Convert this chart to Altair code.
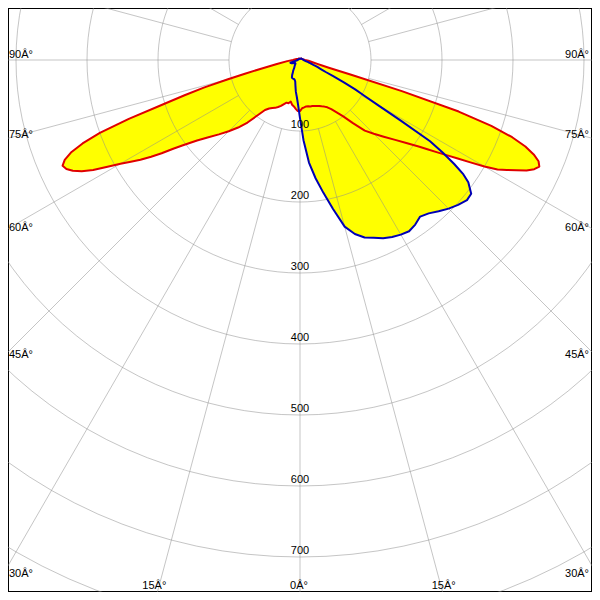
import math
import altair as alt
import pandas as pd

# ---------------- data ----------------
gamma = [0, 2.5, 5, 7.5, 10, 12.5, 15, 17.5, 20, 22.5, 25, 27.5, 30, 32.5, 35,
         37.5, 40, 42.5, 45, 47.5, 50, 52, 54,
         55, 56, 57, 58, 59, 60, 61, 62, 63, 64, 65, 66, 67, 68, 69, 70, 71, 72,
         73, 74, 75, 76, 77.5, 80, 85, 90, 105, 120, 135, 150, 165, 180]

# red curve (C0 - C180 plane), cd
red_c0 = [72, 68, 67, 66, 66, 67, 67, 68, 69, 70, 72, 74, 77, 82, 90,
          100, 116, 135, 147, 160, 175, 190, 208,
          219, 232, 246, 262, 280, 300, 318, 330, 342, 355, 364, 369, 365, 355, 340, 318, 285, 235,
          150, 75, 42, 32, 25, 18, 12, 7, 4, 3, 3, 2, 2, 2]
red_c180 = [72, 72, 69, 66, 64, 60, 63, 63, 66, 70, 73, 76, 78, 81, 86,
            98, 115, 129, 142, 155, 170, 184, 205,
            218, 235, 250, 265, 278, 292, 310, 330, 345, 356, 363, 366, 360, 348, 328, 300, 255, 205,
            170, 140, 105, 80, 55, 33, 18, 10, 5, 3, 3, 2, 2, 2]

# blue curve (C90 - C270 plane), cd
blue_c90 = [82, 113, 145, 168, 190, 215, 243, 257, 266, 271, 277, 281, 284, 286, 283,
            278, 282, 289, 296, 302, 307, 306, 293,
            281, 262, 240, 216, 165, 125, 103, 88, 70, 52, 40, 34, 30, 27, 24, 20, 18, 16,
            15, 13, 12, 11, 9, 8, 6, 5, 4, 3, 3, 2, 2, 2]
blue_c270 = [82, 63, 52, 45, 37, 31, 29, 28, 28, 28, 27, 24, 20, 18, 15,
             13, 12, 11, 10, 9, 9, 8, 8,
             8, 8, 8, 8, 8, 8, 8, 9, 9, 10, 10, 11, 11, 12, 12, 13, 13, 14,
             14, 14, 13, 11, 9, 6, 4, 3, 3, 2, 2, 2, 2, 2]

ring_values = [100, 200, 300, 400, 500, 600, 700, 800]
ring_labels = ["100", "200", "300", "400", "500", "600", "700"]
spoke_angles = list(range(0, 360, 15))
side_label_angles = [90, 75, 60, 45, 30]
bottom_label_angles = [-15, 0, 15]

# ---------------- layout ----------------
K = 0.71          # px per cd
CX, CY = 300, 60  # pole position on the page
W = H = 584
LEFT = TOP = 8
x_dom = [(LEFT - CX) / K, (LEFT + W - CX) / K]
y_dom = [(CY - (TOP + H)) / K, (CY - TOP) / K]

sx = alt.Scale(domain=x_dom, nice=False, zero=False)
sy = alt.Scale(domain=y_dom, nice=False, zero=False)
X = alt.X("x:Q", scale=sx, axis=None)
Y = alt.Y("y:Q", scale=sy, axis=None)
X2 = alt.X2("x2:Q")
Y2 = alt.Y2("y2:Q")

FONT = "Liberation Sans"
FS = 11


def curve_rows(name, left, right):
    rows = []
    n = len(gamma)
    for j in range(n - 1, -1, -1):
        rows.append({"curve": name, "i": len(rows), "ang": -gamma[j], "cd": left[j]})
    for j in range(1, n):
        rows.append({"curve": name, "i": len(rows), "ang": gamma[j], "cd": right[j]})
    return rows


red_df = pd.DataFrame(curve_rows("C0-C180", red_c180, red_c0))
blue_df = pd.DataFrame(curve_rows("C90-C270", blue_c270, blue_c90))
both_df = pd.concat([red_df, blue_df], ignore_index=True)

polar_x = "datum.cd * sin(datum.ang * PI / 180)"
polar_y = "-datum.cd * cos(datum.ang * PI / 180)"

fill = alt.Chart(both_df).mark_line(
    filled=True, color="#ffff00", fillOpacity=1, clip=True
).transform_calculate(x=polar_x, y=polar_y).encode(
    x=X, y=Y, detail="curve:N", order="i:Q"
)

# grid circles
grid_rows = [{"ring": r, "deg": d} for r in ring_values for d in range(0, 361, 3)]
grid_df = pd.DataFrame(grid_rows)
circles = alt.Chart(grid_df).mark_line(
    stroke="#8c8c8c", strokeWidth=1, opacity=0.5, clip=True
).transform_calculate(
    x="datum.ring * sin(datum.deg * PI / 180)",
    y="-datum.ring * cos(datum.deg * PI / 180)",
).encode(x=X, y=Y, detail="ring:N", order="deg:Q")

# spokes
spoke_df = pd.DataFrame({"a": spoke_angles})
spokes = alt.Chart(spoke_df).mark_rule(
    stroke="#8c8c8c", strokeWidth=1, opacity=0.5, clip=True
).transform_calculate(
    x="100 * sin(datum.a * PI / 180)",
    y="-100 * cos(datum.a * PI / 180)",
    x2="1300 * sin(datum.a * PI / 180)",
    y2="-1300 * cos(datum.a * PI / 180)",
).encode(x=X, y=Y, x2=X2, y2=Y2)

red_line = alt.Chart(red_df).mark_line(
    color="#e00000", strokeWidth=2, clip=True, strokeJoin="round"
).transform_calculate(x=polar_x, y=polar_y).encode(x=X, y=Y, order="i:Q")

blue_line = alt.Chart(blue_df).mark_line(
    color="#0000b4", strokeWidth=2, clip=True, strokeJoin="round"
).transform_calculate(x=polar_x, y=polar_y).encode(x=X, y=Y, order="i:Q")

# ring labels
ring_df = pd.DataFrame({"label": ring_labels, "r": [int(s) for s in ring_labels]})
ring_text = alt.Chart(ring_df).mark_text(
    font=FONT, fontSize=FS, color="black", baseline="alphabetic", align="center", dy=-3
).transform_calculate(x="0", y="-datum.r").encode(x=X, y=Y, text="label:N")

# angle labels (placed where each spoke meets the frame)
side_rows = []
for a in side_label_angles:
    hit_y = CY + 300 / math.tan(math.radians(a))
    yy = (CY - (hit_y - 2.5)) / K
    side_rows.append({"t": f"{a}Â°", "x": (9 - CX) / K, "y": yy, "side": "L"})
    side_rows.append({"t": f"{a}Â°", "x": (589 - CX) / K, "y": yy, "side": "R"})
side_df = pd.DataFrame(side_rows)
left_text = alt.Chart(side_df[side_df.side == "L"]).mark_text(
    font=FONT, fontSize=FS, color="black", align="left", baseline="alphabetic"
).encode(x=X, y=Y, text="t:N")
right_text = alt.Chart(side_df[side_df.side == "R"]).mark_text(
    font=FONT, fontSize=FS, color="black", align="right", baseline="alphabetic"
).encode(x=X, y=Y, text="t:N")

bottom_rows = []
for a in bottom_label_angles:
    hit_x = CX + 540 * math.tan(math.radians(a))
    bottom_rows.append({"t": f"{abs(a)}Â°", "x": (hit_x - 1 - CX) / K, "y": (CY - 589) / K})
bottom_df = pd.DataFrame(bottom_rows)
bottom_text = alt.Chart(bottom_df).mark_text(
    font=FONT, fontSize=FS, color="black", align="center", baseline="alphabetic"
).encode(x=X, y=Y, text="t:N")

chart = alt.layer(
    fill, circles, spokes, red_line, blue_line, ring_text, left_text, right_text, bottom_text
).properties(
    width=W, height=H, padding=0, autosize=alt.AutoSizeParams(type="none"),
    background="white",
).configure_view(stroke="black", strokeWidth=2)

chart.save("out.html", embed_options={"renderer": "svg", "actions": False})
